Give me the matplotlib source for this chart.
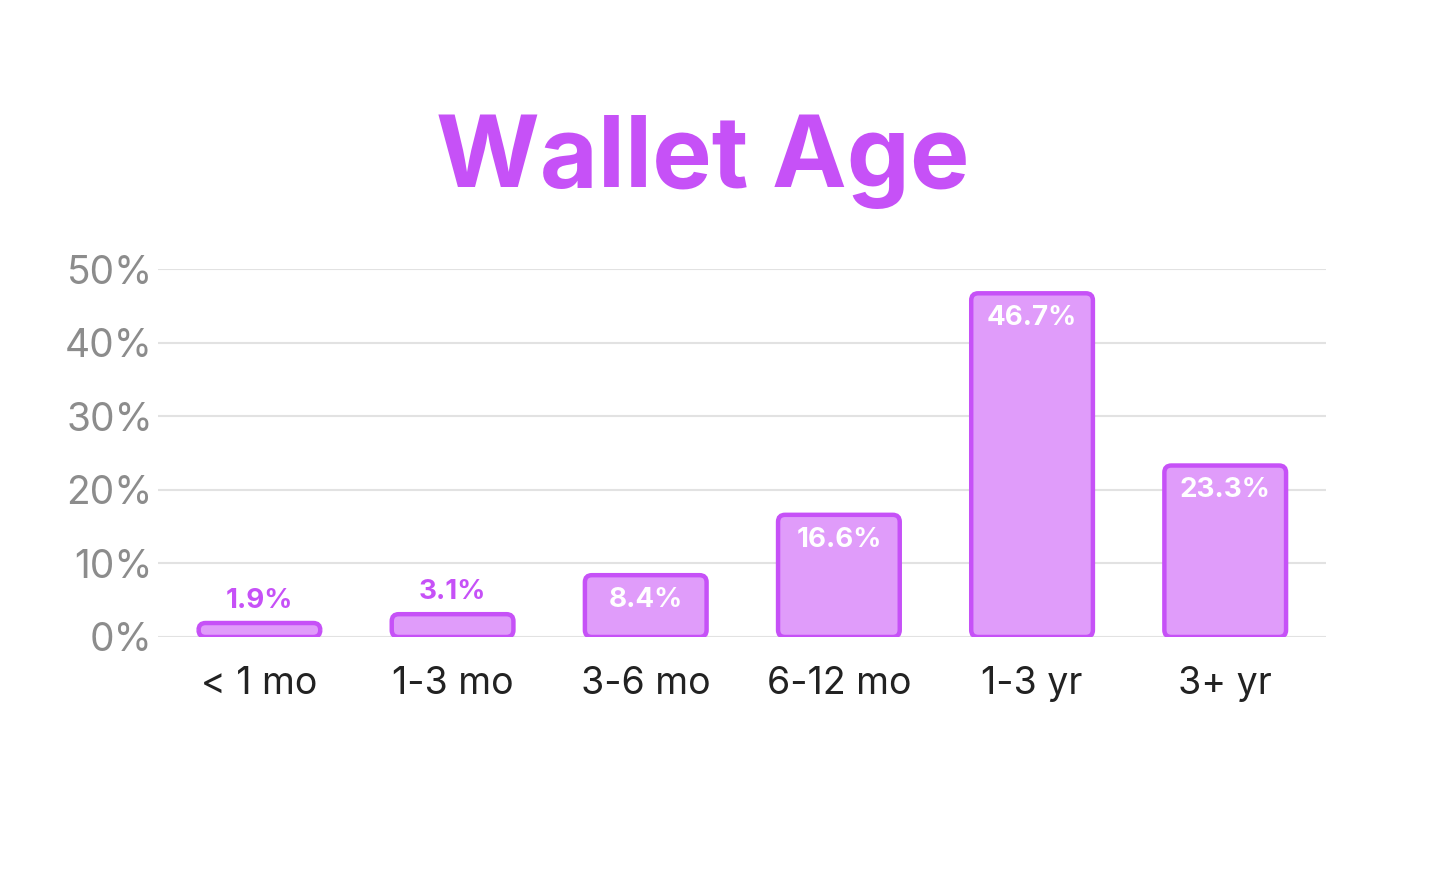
import matplotlib.pyplot as plt
from matplotlib.patches import FancyBboxPatch

# data
categories = ['< 1 mo', '1-3 mo', '3-6 mo', '6-12 mo', '1-3 yr', '3+ yr']
values = [1.9, 3.1, 8.4, 16.6, 46.7, 23.3]
yticks = [0, 10, 20, 30, 40, 50]

purple = '#C651F7'
fill = '#E09CFA'

plt.rcParams['font.family'] = ['Inter', 'DejaVu Sans']

fig = plt.figure(figsize=(14.4, 8.72), dpi=100)
ax = fig.add_axes([0.11, 0.2695, 0.811, 0.422])

ax.set_xlim(-0.523, len(categories) - 1 + 0.523)
ax.set_ylim(0, 50)

# px per data unit, for round corners
px_x = 0.811 * 1440 / (len(categories) - 1 + 1.046)
px_y = 0.422 * 872 / 50
bar_w = 0.63
r = 7 / px_x

for i, v in enumerate(values):
    box = FancyBboxPatch((i - bar_w / 2, 0), bar_w, v,
                         boxstyle=f"round,pad=0,rounding_size={r}",
                         mutation_aspect=px_x / px_y,
                         facecolor=fill, edgecolor=purple, linewidth=3.2,
                         zorder=3)
    ax.add_patch(box)
    if v < 5:
        ax.text(i, v + 1.2, f'{v}%', ha='center', va='bottom',
                fontsize=20, fontweight='bold', color=purple, zorder=4)
    else:
        ax.text(i, v - 1.6, f'{v}%', ha='center', va='top',
                fontsize=20, fontweight='bold', color='white', zorder=4)

ax.set_yticks(yticks)
ax.set_yticklabels([f'{t}%' for t in yticks])
ax.set_xticks(range(len(categories)))
ax.set_xticklabels(categories)
ax.tick_params(axis='y', length=0, pad=4, labelsize=28, labelcolor='#8c8c8c')
ax.tick_params(axis='x', length=0, pad=21, labelsize=27, labelcolor='#222222')
ax.grid(axis='y', color='#e2e2e2', linewidth=1.5, zorder=0)
ax.set_axisbelow(True)
for s in ax.spines.values():
    s.set_visible(False)

fig.text(0.488, 0.815, 'Wallet Age', ha='center', va='center',
         fontsize=72, fontweight='bold', color=purple)

fig.savefig('out.png', dpi=100, facecolor='white')
